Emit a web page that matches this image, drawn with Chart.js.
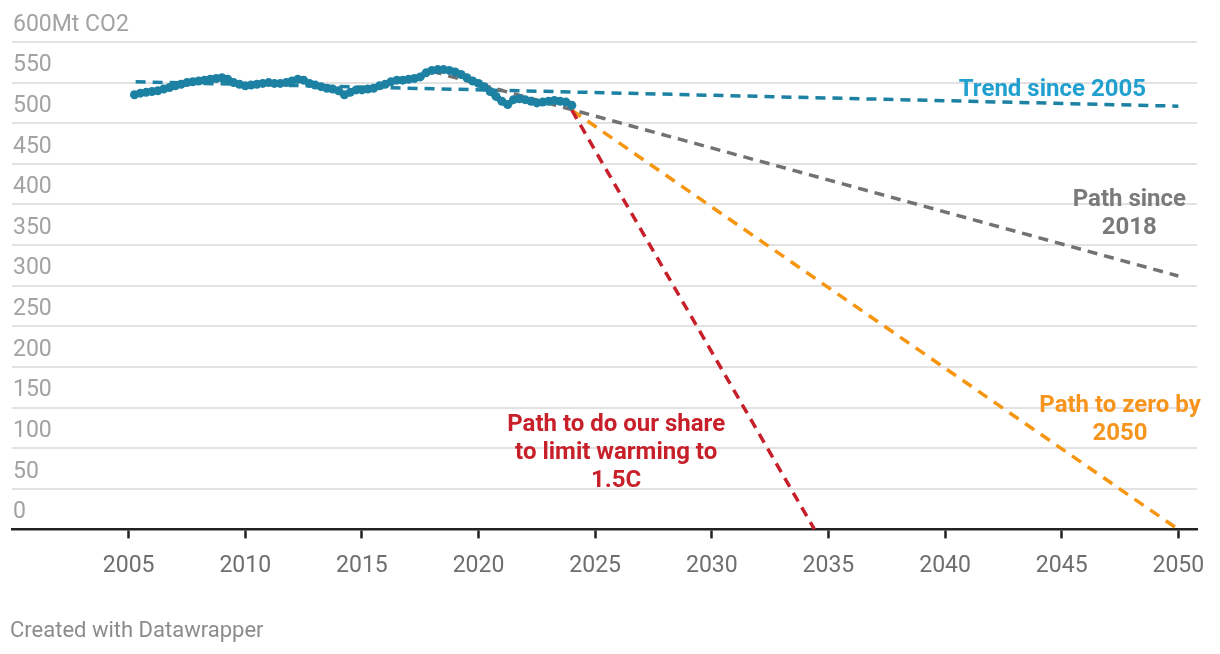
<!DOCTYPE html>
<html>
<head>
<meta charset="utf-8">
<script src="https://cdn.jsdelivr.net/npm/chart.js@4"></script>
<style>
  html, body { margin: 0; padding: 0; background: #fff; }
  #wrap { width: 1220px; height: 654px; }
</style>
</head>
<body>
<div id="wrap"><canvas id="chart" width="1220" height="654"></canvas></div>
<script>
// Emissions, rolling (Mt CO2), quarterly readings
const years = [
  2005.25, 2005.5, 2005.75, 2006, 2006.25, 2006.5, 2006.75, 2007, 2007.25, 2007.5, 2007.75,
  2008, 2008.25, 2008.5, 2008.75, 2009, 2009.25, 2009.5, 2009.75, 2010, 2010.25, 2010.5, 2010.75,
  2011, 2011.25, 2011.5, 2011.75, 2012, 2012.25, 2012.5, 2012.75, 2013, 2013.25, 2013.5, 2013.75,
  2014, 2014.25, 2014.5, 2014.75, 2015, 2015.25, 2015.5, 2015.75, 2016, 2016.25, 2016.5, 2016.75,
  2017, 2017.25, 2017.5, 2017.75, 2018, 2018.25, 2018.5, 2018.75, 2019, 2019.25, 2019.5, 2019.75,
  2020, 2020.25, 2020.5, 2020.75, 2021, 2021.25, 2021.5, 2021.75, 2022, 2022.25, 2022.5, 2022.75,
  2023, 2023.25, 2023.5, 2023.75, 2024
];
const emissions = [
  535, 537, 538, 539, 540, 542, 544, 546, 548, 550, 551,
  552, 553, 554, 555, 556, 554, 550, 548, 546, 547, 548, 549,
  550, 549, 549, 550, 552, 554, 553, 549, 547, 545, 543, 542,
  540, 535, 538, 541, 541, 542, 543, 546, 548, 551, 553, 553,
  554, 555, 557, 562, 565, 566, 566, 565, 563, 560, 556, 552,
  549, 545, 539, 533, 527, 523, 529, 530, 529, 527, 525, 526,
  527, 528, 527, 526, 522
];

// Projections
const trendYears = [2005.3, 2050];
const trendValues = [551, 521];
const path2018Years = [2018, 2050];
const path2018Values = [564, 312];
const zeroYears = [2024, 2050];
const zeroValues = [516, 0];
const shareYears = [2024, 2034.4];
const shareValues = [516, 0];

// Axes
const xTicks = [2005, 2010, 2015, 2020, 2025, 2030, 2035, 2040, 2045, 2050];
const yTicks = [0, 50, 100, 150, 200, 250, 300, 350, 400, 450, 500, 550, 600];

const TEAL = '#1c81a2';
const GREY = '#727272';
const ORANGE = '#f6950f';
const RED = '#c8202a';

const toPoints = (xs, ys) => xs.map((x, i) => ({ x: x, y: ys[i] }));

// Text labels drawn in data coordinates
const annotationPlugin = {
  id: 'notes',
  afterDatasetsDraw(chart) {
    const { ctx, scales } = chart;
    const notes = [
      { lines: ['Trend since 2005'], x: 2044.6, y: 541, color: '#21a0cf' },
      { lines: ['Path since', '2018'], x: 2047.9, y: 406, color: '#7a7a7a' },
      { lines: ['Path to zero by', '2050'], x: 2047.5, y: 152, color: '#f7941d' },
      { lines: ['Path to do our share', 'to limit warming to', '1.5C'], x: 2025.9, y: 128, color: RED }
    ];
    ctx.save();
    ctx.font = 'bold 24px Roboto';
    ctx.textAlign = 'center';
    ctx.textBaseline = 'middle';
    notes.forEach(n => {
      const px = scales.x.getPixelForValue(n.x);
      const py = scales.y.getPixelForValue(n.y);
      ctx.fillStyle = n.color;
      n.lines.forEach((line, i) => {
        ctx.fillText(line, px, py + i * 28);
      });
    });
    ctx.restore();
  },
  afterDraw(chart) {
    const ctx = chart.ctx;
    ctx.save();
    ctx.font = '22px Roboto';
    ctx.fillStyle = '#8c8c8c';
    ctx.textAlign = 'left';
    ctx.textBaseline = 'middle';
    ctx.fillText('Created with Datawrapper', 10, 631);
    ctx.restore();
  }
};

const dashed = (data, color, dash, width) => ({
  data: data,
  borderColor: color,
  backgroundColor: color,
  borderWidth: width,
  borderDash: dash,
  pointRadius: 0,
  fill: false,
  tension: 0
});

new Chart(document.getElementById('chart'), {
  type: 'line',
  data: {
    datasets: [
      {
        data: toPoints(years, emissions),
        borderColor: TEAL,
        backgroundColor: TEAL,
        borderWidth: 6,
        pointRadius: 4.5,
        pointBorderWidth: 0,
        pointBackgroundColor: TEAL,
        tension: 0.2,
        fill: false
      },
      dashed(toPoints(shareYears, shareValues), RED, [10, 7], 3.5),
      dashed(toPoints(zeroYears, zeroValues), ORANGE, [11, 8], 3.5),
      dashed(toPoints(path2018Years, path2018Values), GREY, [10, 7], 3.5),
      dashed(toPoints(trendYears, trendValues), TEAL, [10, 7], 3.5)
    ]
  },
  options: {
    responsive: false,
    animation: false,
    layout: {
      padding: { left: 10, right: 23, top: 42, bottom: 60 }
    },
    plugins: {
      legend: { display: false },
      tooltip: { enabled: false }
    },
    scales: {
      x: {
        type: 'linear',
        min: 2000,
        max: 2050.8,
        afterBuildTicks: (scale) => {
          scale.ticks = xTicks.map(v => ({ value: v }));
        },
        grid: {
          drawOnChartArea: false,
          drawTicks: true,
          tickLength: 9,
          tickColor: '#222',
          tickWidth: 2.5
        },
        border: { display: true, color: '#222', width: 2.5 },
        ticks: {
          color: '#6e6e6e',
          font: { family: 'Roboto', size: 23 },
          padding: 14,
          maxRotation: 0,
          callback: (v) => String(v)
        }
      },
      y: {
        min: 0,
        max: 600,
        afterBuildTicks: (scale) => {
          scale.ticks = yTicks.map(v => ({ value: v }));
        },
        grid: {
          color: '#e2e2e2',
          lineWidth: 2,
          drawTicks: false
        },
        border: { display: false },
        ticks: {
          mirror: true,
          padding: 1,
          labelOffset: -17,
          color: '#a3a3a3',
          font: { family: 'Roboto', size: 23 },
          callback: (v) => v === 600 ? '600Mt CO2' : String(v)
        }
      }
    }
  },
  plugins: [annotationPlugin]
});
</script>
</body>
</html>
